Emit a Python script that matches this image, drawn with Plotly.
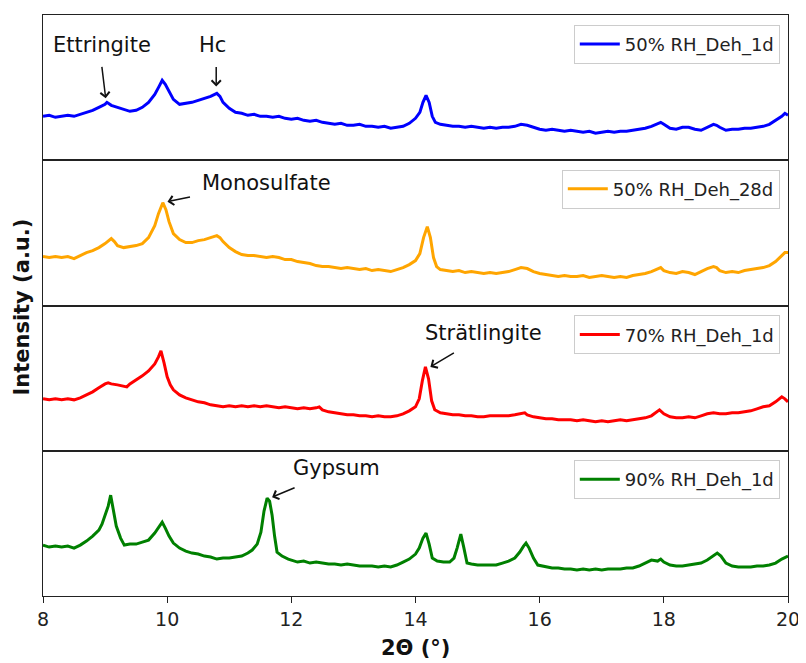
import plotly.graph_objects as go
from plotly.subplots import make_subplots

# ---------------- data (intensity in arbitrary units) ----------------
theta_1d50 = [8.0, 8.1, 8.2, 8.3, 8.4, 8.5, 8.6, 8.7, 8.8, 8.9, 9.0, 9.03, 9.1, 9.2, 9.3, 9.4, 9.5, 9.6, 9.7, 9.8,
              9.87, 9.92, 9.97, 10.05, 10.1, 10.2, 10.3, 10.4, 10.5, 10.6, 10.7, 10.8, 10.85, 10.9, 11.0, 11.1, 11.2,
              11.3, 11.4, 11.5, 11.6, 11.7, 11.8, 11.9, 12.0, 12.1, 12.2, 12.3, 12.4, 12.5, 12.6, 12.7, 12.8, 12.9,
              13.0, 13.1, 13.2, 13.3, 13.4, 13.5, 13.6, 13.7, 13.8, 13.9, 14.0, 14.07, 14.12, 14.17, 14.22, 14.27,
              14.32, 14.4, 14.5, 14.6, 14.7, 14.8, 14.9, 15.0, 15.1, 15.2, 15.3, 15.4, 15.5, 15.6, 15.7, 15.8, 15.9,
              16.0, 16.1, 16.2, 16.3, 16.4, 16.5, 16.6, 16.7, 16.8, 16.9, 17.0, 17.1, 17.2, 17.3, 17.4, 17.5, 17.6,
              17.7, 17.8, 17.9, 17.95, 18.0, 18.1, 18.2, 18.3, 18.4, 18.5, 18.6, 18.7, 18.8, 18.85, 18.9, 19.0, 19.1,
              19.2, 19.3, 19.4, 19.5, 19.6, 19.7, 19.8, 19.9, 19.95, 20.0]
int_1d50 = [44, 45, 43, 44, 45, 44, 46, 48, 50, 53, 56, 58, 55, 53, 51, 49, 50, 53, 58, 66,
            74, 80, 76, 66, 61, 56, 57, 58, 60, 62, 64, 67, 64, 58, 52, 48, 47,
            45, 46, 44, 44, 43, 44, 42, 41, 42, 40, 39, 40, 38, 37, 36, 37, 35,
            35, 36, 34, 34, 33, 34, 32, 33, 34, 37, 42, 48, 58, 65, 58, 44,
            38, 36, 35, 34, 34, 33, 34, 33, 32, 33, 32, 33, 33, 34, 36, 35, 33,
            31, 30, 31, 30, 29, 30, 29, 28, 29, 27, 28, 29, 28, 29, 29, 30, 31,
            32, 34, 37, 38, 36, 32, 31, 33, 33, 31, 30, 33, 36, 35, 33, 30, 31,
            31, 32, 32, 33, 34, 36, 40, 44, 47, 45]

theta_28d50 = [8.0, 8.1, 8.2, 8.3, 8.4, 8.5, 8.6, 8.7, 8.8, 8.9, 9.0, 9.1, 9.15, 9.2, 9.3, 9.4, 9.5, 9.6, 9.7, 9.8,
               9.86, 9.93, 9.98, 10.03, 10.1, 10.2, 10.3, 10.4, 10.5, 10.6, 10.7, 10.8, 10.85, 10.9, 11.0, 11.1,
               11.2, 11.3, 11.4, 11.5, 11.6, 11.7, 11.8, 11.9, 12.0, 12.1, 12.2, 12.3, 12.4, 12.5, 12.6, 12.7, 12.8,
               12.9, 13.0, 13.1, 13.2, 13.3, 13.4, 13.5, 13.6, 13.7, 13.8, 13.9, 14.0, 14.07, 14.13, 14.19, 14.24,
               14.29, 14.34, 14.4, 14.5, 14.6, 14.7, 14.8, 14.9, 15.0, 15.1, 15.2, 15.3, 15.4, 15.5, 15.6, 15.7,
               15.8, 15.9, 16.0, 16.1, 16.2, 16.3, 16.4, 16.5, 16.6, 16.7, 16.8, 16.9, 17.0, 17.1, 17.2, 17.3, 17.4,
               17.5, 17.6, 17.7, 17.8, 17.9, 17.95, 18.0, 18.1, 18.2, 18.3, 18.4, 18.5, 18.6, 18.7, 18.8, 18.85,
               18.9, 19.0, 19.1, 19.2, 19.3, 19.4, 19.5, 19.6, 19.7, 19.8, 19.9, 19.95, 20.0]
int_28d50 = [49, 48, 49, 48, 49, 47, 50, 53, 55, 58, 62, 67, 64, 60, 58, 59, 60, 62, 68, 80,
             92, 103, 96, 84, 72, 66, 63, 63, 65, 66, 68, 70, 68, 64, 58, 54,
             51, 50, 50, 49, 48, 49, 48, 46, 46, 44, 43, 42, 40, 39, 39, 38, 37,
             38, 37, 36, 37, 35, 36, 35, 34, 36, 38, 41, 45, 52, 68, 79, 68,
             48, 39, 36, 35, 34, 35, 33, 34, 33, 32, 33, 32, 33, 34, 36, 38,
             37, 34, 32, 31, 30, 29, 30, 29, 29, 30, 28, 29, 30, 29, 28, 29, 28,
             30, 31, 32, 34, 37, 38, 35, 33, 32, 34, 33, 31, 34, 37, 39, 38,
             35, 33, 34, 33, 35, 36, 37, 38, 40, 44, 50, 53, 53]

theta_1d70 = [8.0, 8.1, 8.2, 8.3, 8.4, 8.5, 8.6, 8.7, 8.8, 8.9, 9.0, 9.05, 9.1, 9.2, 9.3, 9.35, 9.4, 9.5, 9.6, 9.7,
              9.8, 9.86, 9.9, 9.95, 10.0, 10.05, 10.1, 10.2, 10.3, 10.4, 10.5, 10.6, 10.7, 10.8, 10.9, 11.0, 11.1,
              11.2, 11.3, 11.4, 11.5, 11.6, 11.7, 11.8, 11.9, 12.0, 12.1, 12.2, 12.3, 12.4, 12.45, 12.5, 12.6, 12.7,
              12.8, 12.9, 13.0, 13.1, 13.2, 13.3, 13.4, 13.5, 13.6, 13.7, 13.8, 13.9, 14.0, 14.06, 14.11, 14.16,
              14.21, 14.26, 14.31, 14.4, 14.5, 14.6, 14.7, 14.8, 14.9, 15.0, 15.1, 15.2, 15.3, 15.4, 15.5, 15.6,
              15.7, 15.76, 15.8, 15.9, 16.0, 16.1, 16.2, 16.3, 16.4, 16.5, 16.6, 16.7, 16.8, 16.9, 17.0, 17.1,
              17.2, 17.3, 17.4, 17.5, 17.6, 17.7, 17.8, 17.9, 17.93, 18.0, 18.1, 18.2, 18.3, 18.4, 18.5, 18.6,
              18.7, 18.8, 18.9, 19.0, 19.1, 19.2, 19.3, 19.4, 19.5, 19.6, 19.7, 19.8, 19.9, 19.95, 20.0]
int_1d70 = [52, 51, 52, 51, 52, 51, 53, 56, 59, 63, 67, 68, 67, 66, 65, 64, 67, 71, 75, 80,
            87, 94, 100, 88, 74, 66, 61, 56, 53, 51, 49, 48, 46, 45, 44, 45, 44,
            45, 44, 45, 44, 45, 44, 43, 44, 43, 42, 43, 42, 43, 44, 41, 39, 38,
            37, 36, 36, 35, 35, 34, 35, 34, 34, 35, 37, 40, 44, 52, 70, 84,
            72, 50, 41, 38, 37, 36, 36, 35, 35, 34, 34, 35, 35, 35, 35, 36,
            37, 38, 36, 34, 33, 32, 32, 31, 31, 31, 30, 31, 30, 29, 30, 29,
            30, 31, 30, 31, 32, 33, 35, 39, 41, 37, 34, 33, 33, 34, 33, 35,
            37, 38, 37, 37, 38, 38, 39, 40, 42, 44, 45, 49, 54, 52, 49]

theta_1d90 = [8.0, 8.1, 8.2, 8.3, 8.4, 8.5, 8.6, 8.7, 8.8, 8.9, 8.95, 9.0, 9.05, 9.09, 9.13, 9.18, 9.25, 9.31, 9.4,
              9.5, 9.6, 9.7, 9.8, 9.86, 9.92, 9.97, 10.03, 10.1, 10.2, 10.3, 10.4, 10.5, 10.6, 10.7, 10.8, 10.9,
              11.0, 11.1, 11.2, 11.3, 11.37, 11.45, 11.51, 11.56, 11.61, 11.65, 11.69, 11.73, 11.77, 11.85, 11.95,
              12.1, 12.2, 12.3, 12.4, 12.5, 12.6, 12.7, 12.8, 12.9, 13.0, 13.1, 13.2, 13.3, 13.4, 13.5, 13.6, 13.7,
              13.8, 13.9, 14.0, 14.06, 14.12, 14.17, 14.22, 14.27, 14.35, 14.45, 14.55, 14.62, 14.67, 14.73, 14.78,
              14.83, 14.9, 15.0, 15.1, 15.2, 15.3, 15.4, 15.5, 15.6, 15.68, 15.74, 15.78, 15.83, 15.9, 15.97, 16.1,
              16.2, 16.3, 16.4, 16.5, 16.6, 16.7, 16.8, 16.9, 17.0, 17.1, 17.2, 17.3, 17.4, 17.5, 17.6, 17.7, 17.8,
              17.9, 17.95, 18.0, 18.1, 18.2, 18.3, 18.4, 18.5, 18.6, 18.7, 18.8, 18.86, 18.92, 19.0, 19.1, 19.2,
              19.3, 19.4, 19.5, 19.6, 19.7, 19.8, 19.9, 20.0]
int_1d90 = [51, 49, 50, 49, 50, 48, 51, 55, 60, 66, 72, 80, 90, 101, 88, 70, 58, 51, 52,
            52, 54, 56, 63, 68, 74, 68, 60, 53, 48, 45, 43, 42, 40, 39, 37, 38,
            38, 39, 40, 43, 46, 52, 64, 85, 98, 95, 81, 60, 44, 40, 37,
            34, 35, 33, 34, 33, 32, 32, 31, 32, 31, 30, 30, 30, 29, 30, 29, 31,
            34, 37, 42, 48, 58, 63, 52, 38, 35, 34, 34, 38, 48, 62, 48,
            33, 32, 31, 31, 31, 31, 33, 35, 38, 44, 50, 53, 48, 38, 31, 29,
            28, 28, 27, 27, 26, 27, 26, 27, 26, 27, 27, 27, 28, 28, 30, 33, 36,
            35, 37, 34, 31, 30, 30, 31, 32, 33, 36, 40, 43, 40, 33, 30, 29,
            29, 29, 30, 30, 31, 33, 37, 40]

series_names = ["50% RH_Deh_1d", "50% RH_Deh_28d", "70% RH_Deh_1d", "90% RH_Deh_1d"]
series_theta = [theta_1d50, theta_28d50, theta_1d70, theta_1d90]
series_int = [int_1d50, int_28d50, int_1d70, int_1d90]
series_colors = ["#0000ff", "#ffa500", "#ff0000", "#008000"]
x_ticks = [8, 10, 12, 14, 16, 18, 20]

FONT = "DejaVu Sans"

fig = make_subplots(rows=4, cols=1, shared_xaxes=True, vertical_spacing=0)

legend_ids = ["legend", "legend2", "legend3", "legend4"]
for i in range(4):
    fig.add_trace(go.Scatter(x=series_theta[i], y=series_int[i], mode="lines",
                             name=series_names[i],
                             line=dict(color=series_colors[i], width=3),
                             legend=legend_ids[i], showlegend=True),
                  row=i + 1, col=1)

legend_tops = [0.983, 0.734, 0.483, 0.234]
leg_common = dict(x=0.989, xanchor="right", yanchor="top", bgcolor="white",
                  bordercolor="#cccccc", borderwidth=1, itemwidth=40,
                  font=dict(family=FONT, size=18, color="#222"))
layout_leg = {}
for i, lid in enumerate(legend_ids):
    d = dict(leg_common)
    d["y"] = legend_tops[i]
    layout_leg[lid] = d
fig.update_layout(**layout_leg)

for r in range(1, 5):
    fig.update_yaxes(range=[0, 145.5], showticklabels=False, ticks="", showgrid=False,
                     zeroline=False, showline=True, mirror=True, linecolor="#222", linewidth=1.2,
                     row=r, col=1)
    fig.update_xaxes(range=[8, 20], showgrid=False, zeroline=False, showline=True, mirror=True,
                     linecolor="#222", linewidth=1.2, row=r, col=1)

fig.update_xaxes(tickvals=x_ticks, ticks="outside", ticklen=6, tickwidth=1.2, tickcolor="#222",
                 tickfont=dict(family=FONT, size=19, color="#222"), row=4, col=1)

ann_font = dict(family=FONT, size=21, color="#111")
annotations = [
    # labels
    dict(x=8.947, y=115, xref="x", yref="y", text="Ettringite", showarrow=False, font=ann_font),
    dict(x=10.727, y=115, xref="x", yref="y", text="Hc", showarrow=False, font=ann_font),
    dict(x=11.594, y=123, xref="x2", yref="y2", text="Monosulfate", showarrow=False, font=ann_font),
    dict(x=15.09, y=118, xref="x3", yref="y3", text="Strätlingite", showarrow=False, font=ann_font),
    dict(x=12.733, y=128, xref="x4", yref="y4", text="Gypsum", showarrow=False, font=ann_font),
]
arrows = [
    ("x", "y", 9.01, 62, -4, -33),
    ("x", "y", 10.79, 74, 0, -21),
    ("x2", "y2", 10.005, 104, 24, -5),
    ("x3", "y3", 14.24, 84, 25, -15),
    ("x4", "y4", 11.69, 99, 24, -10),
]
for xr, yr, xa, ya, axp, ayp in arrows:
    annotations.append(dict(x=xa, y=ya, xref=xr, yref=yr, text="", showarrow=True,
                            ax=axp, ay=ayp, arrowhead=4, arrowsize=1.2, arrowwidth=1.5,
                            arrowcolor="#111", standoff=0))
# axis titles
annotations.append(dict(x=-0.028, y=0.4966, xref="paper", yref="paper", text="<b>Intensity (a.u.)</b>",
                        textangle=-90, showarrow=False, xanchor="center", yanchor="middle",
                        font=dict(family=FONT, size=21, color="#111")))
annotations.append(dict(x=0.5, y=-0.089, xref="paper", yref="paper", text="<b>2Θ (°)</b>",
                        showarrow=False, xanchor="center", yanchor="middle",
                        font=dict(family=FONT, size=21, color="#111")))

# the page adds an 8px body margin, so the figure is made 8px smaller and shifted
fig.update_layout(width=798, height=655, margin=dict(l=35, r=15, t=6, b=67),
                  plot_bgcolor="white", paper_bgcolor="white",
                  annotations=annotations, font=dict(family=FONT))

fig.write_html("out.html")
